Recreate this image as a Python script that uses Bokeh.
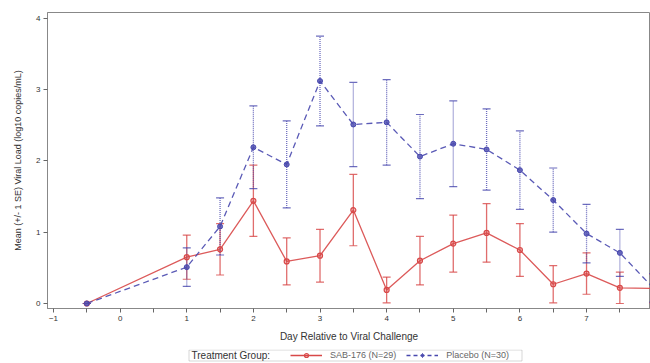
from bokeh.plotting import figure
from bokeh.layouts import column
from bokeh.models import (ColumnDataSource, Whisker, TeeHead, Legend, LegendItem, FixedTicker,
                          BoxAnnotation, Label)
from bokeh.embed import file_html
from bokeh.resources import INLINE

days = [-0.5, 1, 1.5, 2, 2.5, 3, 3.5, 4, 4.5, 5, 5.5, 6, 6.5, 7, 7.5, 8]
sab_mean = [0.0, 0.65, 0.76, 1.44, 0.59, 0.67, 1.31, 0.19, 0.60, 0.84, 0.99, 0.75, 0.27, 0.42, 0.22, 0.21]
sab_se = [0.0, 0.31, 0.36, 0.50, 0.33, 0.37, 0.50, 0.18, 0.34, 0.40, 0.41, 0.37, 0.26, 0.29, 0.22, 0.20]
pla_mean = [0.0, 0.51, 1.08, 2.19, 1.95, 3.12, 2.51, 2.54, 2.06, 2.24, 2.16, 1.87, 1.45, 0.98, 0.71, 0.22]
pla_se = [0.0, 0.27, 0.40, 0.58, 0.61, 0.63, 0.59, 0.60, 0.59, 0.60, 0.57, 0.55, 0.45, 0.41, 0.33, 0.20]
x_ticks = [-1, 0, 1, 2, 3, 4, 5, 6, 7, 8]
y_ticks = [0, 1, 2, 3, 4]
legend_heading = "Treatment Group:"
group_labels = ["SAB-176 (N=29)", "Placebo (N=30)"]

RED = "#D84848"
BLUE = "#4848AE"
FONT = "Liberation Sans"
GRAY = "#333333"

sab = ColumnDataSource(dict(x=days, y=sab_mean,
                            lo=[m - s for m, s in zip(sab_mean, sab_se)],
                            hi=[m + s for m, s in zip(sab_mean, sab_se)]))
pla = ColumnDataSource(dict(x=days, y=pla_mean,
                            lo=[m - s for m, s in zip(pla_mean, pla_se)],
                            hi=[m + s for m, s in zip(pla_mean, pla_se)]))

p = figure(width=650, height=349, x_range=(-1.09, 7.96), y_range=(-0.07, 4.08),
           output_backend="svg", toolbar_location=None,
           min_border_left=47, min_border_right=0, min_border_top=12, min_border_bottom=41,
           x_axis_label="Day Relative to Viral Challenge",
           y_axis_label="Mean (+/- 1 SE) Viral Load (log10 copies/mL)")
p.background_fill_color = "white"
p.border_fill_color = "white"
p.outline_line_color = "#888888"
p.xgrid.visible = False
p.ygrid.visible = False

for ax in (p.xaxis[0], p.yaxis[0]):
    ax.axis_line_color = "#888888"
    ax.major_tick_line_color = "#666666"
    ax.minor_tick_line_color = "#666666"
    ax.major_tick_in = 0
    ax.major_tick_out = 4
    ax.minor_tick_in = 0
    ax.minor_tick_out = 4
    ax.major_label_text_font = FONT
    ax.major_label_text_font_size = "8px"
    ax.major_label_text_color = GRAY
    ax.axis_label_text_font = FONT
    ax.axis_label_text_font_style = "normal"
    ax.axis_label_text_color = GRAY
    ax.major_label_standoff = 3

p.xaxis[0].ticker = FixedTicker(ticks=x_ticks, minor_ticks=[t + 0.5 for t in x_ticks])
p.yaxis[0].ticker = FixedTicker(ticks=y_ticks)
p.xaxis[0].axis_label_text_font_size = "10px"
p.yaxis[0].axis_label_text_font_size = "9px"
p.xaxis[0].axis_label_standoff = 7
p.yaxis[0].axis_label_standoff = 10

# error bars
w_sab = Whisker(base="x", lower="lo", upper="hi", source=sab, line_color=RED, line_width=1.3, line_alpha=0.8,
                upper_head=TeeHead(size=8, line_color=RED, line_width=1.2, line_alpha=0.8),
                lower_head=TeeHead(size=8, line_color=RED, line_width=1.2, line_alpha=0.8))
w_pla = Whisker(base="x", lower="lo", upper="hi", source=pla, line_color=BLUE, line_width=1.3,
                line_dash="1 1", line_alpha=0.8,
                upper_head=TeeHead(size=8, line_color=BLUE, line_width=1.2, line_alpha=0.8),
                lower_head=TeeHead(size=8, line_color=BLUE, line_width=1.2, line_alpha=0.8))
p.add_layout(w_sab)
p.add_layout(w_pla)

p.line("x", "y", source=sab, line_color=RED, line_width=1.3, line_alpha=0.9)
p.scatter("x", "y", source=sab, marker="circle", size=5, line_color=RED, fill_color=RED,
          fill_alpha=0.35, line_width=1.2)
p.line("x", "y", source=pla, line_color=BLUE, line_width=1.3, line_dash="6 4", line_alpha=0.9)
p.scatter("x", "y", source=pla, marker="circle", size=5, line_color=BLUE, fill_color=BLUE,
          fill_alpha=0.8, line_width=1.0)

# legend strip below the chart; its frame is aligned with the chart frame (starts 47 px in),
# so the ranges are expressed in pixels from that frame's lower-left corner
lg = figure(width=650, height=14, x_range=(0, 603), y_range=(0, 14),
            output_backend="svg", toolbar_location=None,
            x_axis_type=None, y_axis_type=None,
            min_border_left=47, min_border_right=0, min_border_top=0, min_border_bottom=0)
lg.outline_line_color = None
lg.xgrid.visible = False
lg.ygrid.visible = False
lg.background_fill_color = "white"
lg.border_fill_color = "white"

lg.add_layout(BoxAnnotation(left=141.5, right=474.5, bottom=2.5, top=13.5,
                            fill_alpha=0, line_color="#777777", line_width=1))
lg.add_layout(Label(x=144, y=8, text=legend_heading, text_baseline="middle",
                    text_font=FONT, text_font_size="10px", text_color=GRAY))

off = ColumnDataSource(dict(x=[-100], y=[-100]))
r1 = lg.line("x", "y", source=off, line_color=RED, line_width=1.3)
r2 = lg.scatter("x", "y", source=off, marker="circle", size=5, line_color=RED, fill_color=RED,
                fill_alpha=0.35, line_width=1.2)
b1 = lg.line("x", "y", source=off, line_color=BLUE, line_width=1.3, line_dash="4 3")
b2 = lg.scatter("x", "y", source=off, marker="diamond", size=7, line_color=BLUE, fill_color=BLUE,
                fill_alpha=0.8, line_width=1.0)

items = [LegendItem(label=group_labels[0], renderers=[r1, r2]),
         LegendItem(label=group_labels[1], renderers=[b1, b2])]
legend = Legend(items=items, orientation="horizontal", location=(243, 3))
legend.label_text_font = FONT
legend.label_text_font_size = "9px"
legend.label_text_color = "#666666"
legend.border_line_color = None
legend.background_fill_alpha = 0
legend.padding = 0
legend.margin = 0
legend.spacing = 10
legend.glyph_width = 32
legend.glyph_height = 10
legend.label_height = 10
legend.label_standoff = 8
lg.add_layout(legend)

open("out.html", "w").write(file_html(column(p, lg, spacing=0), INLINE))
